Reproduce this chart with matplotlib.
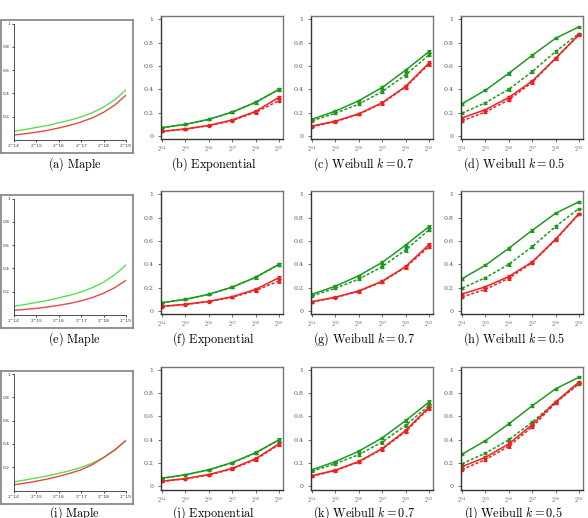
import matplotlib
matplotlib.use("Agg")
import matplotlib.pyplot as plt

plt.rcParams['mathtext.fontset'] = 'cm'
plt.rcParams['font.family'] = 'DejaVu Serif'

# x positions: exponents of the sample size (2^14 .. 2^19)
exps = [14, 15, 16, 17, 18, 19]
exp_labels = [r'$2^{%d}$' % e for e in exps]

# Maple curves, read at half steps
maple_x = [14, 14.5, 15, 15.5, 16, 16.5, 17, 17.5, 18, 18.5, 19]
maple_green = [0.075, 0.09, 0.108, 0.125, 0.147, 0.17, 0.198, 0.235, 0.282, 0.345, 0.43]
maple_red_1 = [0.043, 0.054, 0.067, 0.083, 0.103, 0.126, 0.155, 0.19, 0.238, 0.3, 0.385]
maple_red_2 = [0.04, 0.048, 0.057, 0.069, 0.083, 0.1, 0.122, 0.15, 0.187, 0.235, 0.298]
maple_red_3 = [0.05, 0.063, 0.08, 0.099, 0.122, 0.148, 0.178, 0.222, 0.283, 0.35, 0.43]

# green curves (same in every row)
green_exp = [0.071, 0.10, 0.143, 0.205, 0.289, 0.40]
green_exp_dash = [0.07, 0.099, 0.142, 0.203, 0.287, 0.398]
green_w07 = [0.143, 0.213, 0.302, 0.416, 0.564, 0.723]
green_w07_dash = [0.13, 0.195, 0.273, 0.38, 0.523, 0.695]
green_w05 = [0.276, 0.392, 0.537, 0.691, 0.837, 0.936]
green_w05_dash = [0.195, 0.285, 0.40, 0.551, 0.724, 0.878]

# red curves per row
red_exp_1 = [0.04, 0.06, 0.091, 0.137, 0.211, 0.331]
red_exp_1_dash = [0.04, 0.058, 0.088, 0.132, 0.203, 0.303]
red_w07_1 = [0.085, 0.127, 0.19, 0.285, 0.425, 0.625]
red_w07_1_dash = [0.08, 0.122, 0.186, 0.28, 0.42, 0.615]
red_w05_1 = [0.155, 0.225, 0.33, 0.47, 0.665, 0.87]
red_w05_1_dash = [0.13, 0.205, 0.31, 0.46, 0.665, 0.865]

red_exp_2 = [0.04, 0.057, 0.083, 0.122, 0.185, 0.285]
red_exp_2_dash = [0.038, 0.055, 0.08, 0.117, 0.175, 0.257]
red_w07_2 = [0.08, 0.118, 0.172, 0.255, 0.38, 0.57]
red_w07_2_dash = [0.077, 0.115, 0.168, 0.25, 0.375, 0.55]
red_w05_2 = [0.145, 0.207, 0.295, 0.42, 0.615, 0.835]
red_w05_2_dash = [0.12, 0.185, 0.28, 0.415, 0.61, 0.83]

red_exp_3 = [0.045, 0.068, 0.102, 0.155, 0.238, 0.365]
red_exp_3_dash = [0.043, 0.065, 0.098, 0.15, 0.23, 0.36]
red_w07_3 = [0.092, 0.14, 0.214, 0.325, 0.48, 0.68]
red_w07_3_dash = [0.088, 0.135, 0.21, 0.32, 0.47, 0.67]
red_w05_3 = [0.17, 0.25, 0.365, 0.53, 0.725, 0.895]
red_w05_3_dash = [0.145, 0.23, 0.345, 0.51, 0.715, 0.885]

# error bar half widths
err_exp = [0.004, 0.005, 0.006, 0.008, 0.011, 0.015]
err_w07 = [0.006, 0.008, 0.01, 0.012, 0.014, 0.014]
err_w05 = [0.008, 0.01, 0.012, 0.012, 0.01, 0.008]

titles = [
    [r'$\mathrm{(a)\ Maple}$', r'$\mathrm{(b)\ Exponential}$',
     r'$\mathrm{(c)\ Weibull}\ k = 0.7$', r'$\mathrm{(d)\ Weibull}\ k = 0.5$'],
    [r'$\mathrm{(e)\ Maple}$', r'$\mathrm{(f)\ Exponential}$',
     r'$\mathrm{(g)\ Weibull}\ k = 0.7$', r'$\mathrm{(h)\ Weibull}\ k = 0.5$'],
    [r'$\mathrm{(i)\ Maple}$', r'$\mathrm{(j)\ Exponential}$',
     r'$\mathrm{(k)\ Weibull}\ k = 0.7$', r'$\mathrm{(l)\ Weibull}\ k = 0.5$'],
]

maple_reds = [maple_red_1, maple_red_2, maple_red_3]
panel_data = [
    [(green_exp, green_exp_dash, red_exp_1, red_exp_1_dash, err_exp),
     (green_w07, green_w07_dash, red_w07_1, red_w07_1_dash, err_w07),
     (green_w05, green_w05_dash, red_w05_1, red_w05_1_dash, err_w05)],
    [(green_exp, green_exp_dash, red_exp_2, red_exp_2_dash, err_exp),
     (green_w07, green_w07_dash, red_w07_2, red_w07_2_dash, err_w07),
     (green_w05, green_w05_dash, red_w05_2, red_w05_2_dash, err_w05)],
    [(green_exp, green_exp_dash, red_exp_3, red_exp_3_dash, err_exp),
     (green_w07, green_w07_dash, red_w07_3, red_w07_3_dash, err_w07),
     (green_w05, green_w05_dash, red_w05_3, red_w05_3_dash, err_w05)],
]

GREEN = '#1e9a1e'
RED = '#ee2222'
W, H = 588, 518

fig = plt.figure(figsize=(W / 100, H / 100), dpi=100)


def px_axes(left, top, width, height):
    return fig.add_axes([left / W, 1 - (top + height) / H, width / W, height / H])


def draw_series(ax, y, err, color, ls):
    ax.errorbar(exps, y, yerr=err, color=color, linestyle=ls, linewidth=1.1,
                marker='s', markersize=2.0, capsize=1.5, elinewidth=0.8,
                capthick=0.8, dashes=(2, 1.2) if ls == '--' else (None, None))


row_offsets = [0, 175, 350.5]
col_lefts = [160.7, 310.7, 460.7]
title_y = [164, 339, 513]

for r in range(3):
    off = row_offsets[r]

    # Maple panel: a grey framed image with its own small axes inside
    frame = px_axes(1, 20 + off, 132, 133)
    frame.set_xticks([])
    frame.set_yticks([])
    for s in frame.spines.values():
        s.set_color('#8a8a8a')
        s.set_linewidth(1.3)

    ax = px_axes(14, 23.5 + off, 112, 116.5)
    ax.patch.set_alpha(0)
    ax.plot(maple_x, maple_green, color='#55e055', linewidth=1.0)
    ax.plot(maple_x, maple_reds[r], color='#e84848', linewidth=1.0)
    ax.set_xlim(14, 19)
    ax.set_ylim(0, 1)
    ax.spines['top'].set_visible(False)
    ax.spines['right'].set_visible(False)
    for s in ('left', 'bottom'):
        ax.spines[s].set_linewidth(0.6)
        ax.spines[s].set_color('#333333')
    ax.set_xticks(exps)
    ax.set_xticklabels(['2^%d' % e for e in exps], fontsize=3.2,
                       family='DejaVu Sans', color='#333333')
    ax.set_yticks([0.2, 0.4, 0.6, 0.8, 1.0])
    ax.set_yticklabels(['0.2', '0.4', '0.6', '0.8', '1'], fontsize=3.2,
                       family='DejaVu Sans', color='#333333')
    ax.tick_params(length=1.5, width=0.5, pad=1.5)
    fig.text(75 / W, 1 - title_y[r] / H, titles[r][0], ha='center',
             va='center', fontsize=8.8)

    for c in range(3):
        g, gd, rd, rdd, err = panel_data[r][c]
        ax = px_axes(col_lefts[c], 16 + off, 122, 123)
        draw_series(ax, gd, err, GREEN, '--')
        draw_series(ax, g, err, GREEN, '-')
        draw_series(ax, rdd, err, RED, '--')
        draw_series(ax, rd, err, RED, '-')
        ax.set_xlim(13.944, 19.158)
        ax.set_ylim(-0.026, 1.028)
        ax.set_xticks(exps)
        ax.set_xticklabels(exp_labels, fontsize=4.3, color='#555555')
        ax.set_yticks([0, 0.2, 0.4, 0.6, 0.8, 1])
        ax.set_yticklabels(['0', '0.2', '0.4', '0.6', '0.8', '1'],
                           fontsize=4.5, color='#555555')
        ax.tick_params(length=2, width=0.6, pad=3, colors='#555555',
                       labelcolor='#555555')
        ax.tick_params(axis='x', pad=2)
        for s in ax.spines.values():
            s.set_color('#777777')
            s.set_linewidth(1.0)
        ax.spines['left'].set_color('#333333')
        ax.spines['bottom'].set_color('#333333')
        cx = col_lefts[c] + 61 - 8
        fig.text(cx / W, 1 - title_y[r] / H, titles[r][c + 1], ha='center',
                 va='center', fontsize=8.8)

fig.savefig('out.png', dpi=100)
